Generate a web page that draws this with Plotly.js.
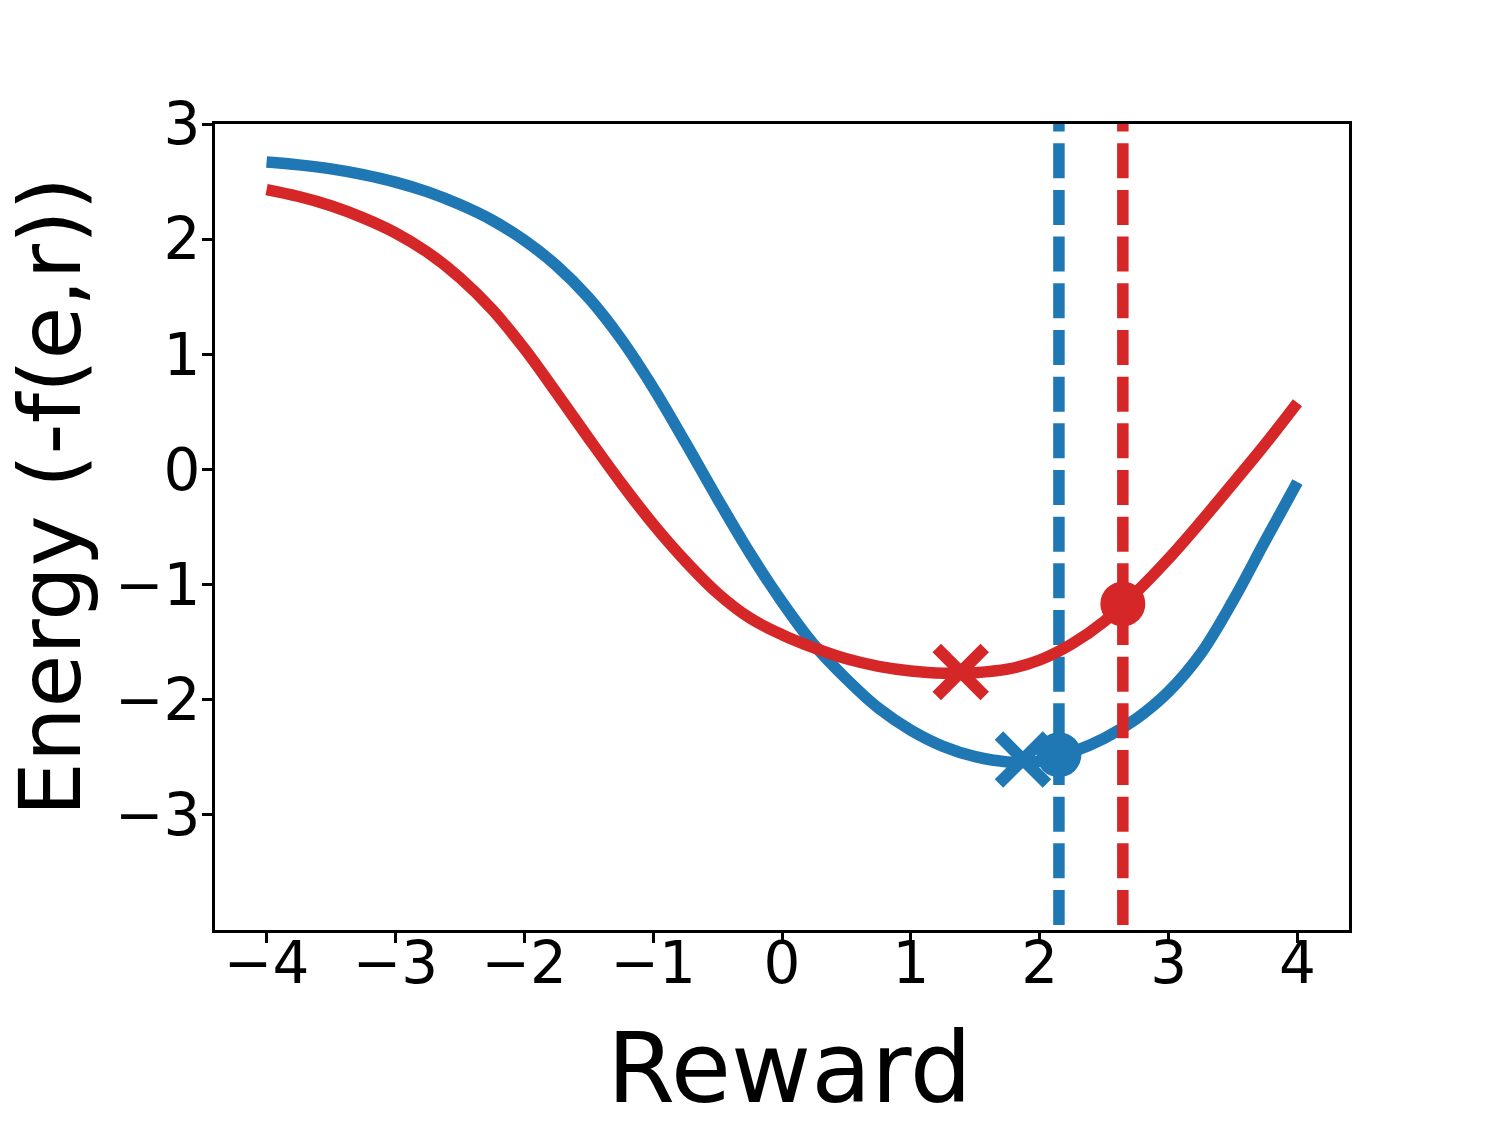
<!DOCTYPE html>
<html>
<head>
<meta charset="utf-8">
<script src="https://cdn.plot.ly/plotly-3.0.1.min.js"></script>
<style>html,body{margin:0;padding:0;background:#fff;}</style>
</head>
<body>
<div id="chart" style="width:1499px;height:1128px;"></div>
<script>
// Reward grid
const reward = [-4,-3.75,-3.5,-3.25,-3,-2.75,-2.5,-2.25,-2,-1.75,-1.5,-1.25,-1,-0.75,-0.5,-0.25,0,0.25,0.5,0.75,1,1.25,1.5,1.75,2,2.25,2.5,2.75,3,3.25,3.5,3.75,4];
// Energy curves
const energyBlue = [2.67,2.645,2.61,2.56,2.495,2.41,2.30,2.165,1.99,1.77,1.49,1.135,0.71,0.235,-0.255,-0.725,-1.15,-1.525,-1.82,-2.075,-2.265,-2.405,-2.495,-2.54,-2.535,-2.455,-2.335,-2.165,-1.93,-1.60,-1.14,-0.62,-0.11];
const energyRed  = [2.43,2.37,2.29,2.185,2.055,1.885,1.665,1.39,1.05,0.665,0.27,-0.115,-0.475,-0.795,-1.075,-1.29,-1.435,-1.55,-1.645,-1.71,-1.75,-1.77,-1.765,-1.735,-1.655,-1.515,-1.32,-1.065,-0.775,-0.455,-0.12,0.22,0.58];
// Vertical reference lines (reward values) and their vertical extent
const vlineBlueX = 2.149;
const vlineRedX = 2.645;
const vlineY = [-4, 3];
// Markers: minima (x) and selected points (circles)
const minBlue = {x: 1.87, y: -2.52};
const minRed = {x: 1.387, y: -1.76};
const ptBlue = {x: 2.149, y: -2.478};
const ptRed = {x: 2.645, y: -1.168};
// Ticks and labels
const xTicks = [-4,-3,-2,-1,0,1,2,3,4];
const yTicks = [-3,-2,-1,0,1,2,3];
const xLabel = 'Reward';
const yLabel = 'Energy (-f(e,r))';
const fmt = v => (v < 0 ? '\u2212' + Math.abs(v) : String(v));

const BLUE = '#1f77b4', RED = '#d62728';
const LW = 11.5;
const DASH = '0px,5px,35px,6.67px';
const FONT = 'DejaVu Sans, sans-serif';

const traces = [
  {x: reward, y: energyBlue, mode: 'lines', line: {color: BLUE, width: LW, shape: 'spline', smoothing: 1}},
  {x: [vlineBlueX, vlineBlueX], y: vlineY, mode: 'lines', line: {color: BLUE, width: LW, dash: DASH}},
  {x: reward, y: energyRed, mode: 'lines', line: {color: RED, width: LW, shape: 'spline', smoothing: 1}},
  {x: [vlineRedX, vlineRedX], y: vlineY, mode: 'lines', line: {color: RED, width: LW, dash: DASH}},
  {x: [minBlue.x], y: [minBlue.y], mode: 'markers', marker: {symbol: 'x-thin', size: 48, line: {color: BLUE, width: 12}}},
  {x: [ptBlue.x], y: [ptBlue.y], mode: 'markers', marker: {symbol: 'circle', size: 45, color: BLUE, line: {width: 0}}},
  {x: [minRed.x], y: [minRed.y], mode: 'markers', marker: {symbol: 'x-thin', size: 48, line: {color: RED, width: 12}}},
  {x: [ptRed.x], y: [ptRed.y], mode: 'markers', marker: {symbol: 'circle', size: 45, color: RED, line: {width: 0}}}
];

const axisCommon = {
  showgrid: false, zeroline: false, showline: true, mirror: true,
  linecolor: '#000', linewidth: 3,
  ticks: 'outside', ticklen: 10, tickwidth: 3, tickcolor: '#000',
  tickfont: {family: FONT, size: 58, color: '#000'}
};

const layout = {
  width: 1499, height: 1128,
  margin: {l: 215, r: 150, t: 124, b: 198},
  paper_bgcolor: '#fff', plot_bgcolor: '#fff',
  showlegend: false,
  xaxis: Object.assign({}, axisCommon, {
    range: [-4.4, 4.4], tickvals: xTicks, ticktext: xTicks.map(fmt),
    ticklabelstandoff: -30
  }),
  yaxis: Object.assign({}, axisCommon, {
    range: [-4, 3], tickvals: yTicks, ticktext: yTicks.map(fmt),
    ticklabelstandoff: -10
  }),
  annotations: [
    {
      text: xLabel, showarrow: false,
      xref: 'paper', yref: 'paper', x: 0.507, y: -0.171,
      xanchor: 'center', yanchor: 'middle',
      font: {family: FONT, size: 98, color: '#000'}
    },
    {
      text: yLabel, textangle: -90, showarrow: false,
      xref: 'paper', yref: 'paper', x: -0.1455, y: 0.538,
      xanchor: 'center', yanchor: 'middle',
      font: {family: FONT, size: 86, color: '#000'}
    }
  ]
};

Plotly.newPlot('chart', traces, layout, {staticPlot: true, displayModeBar: false});
</script>
</body>
</html>
